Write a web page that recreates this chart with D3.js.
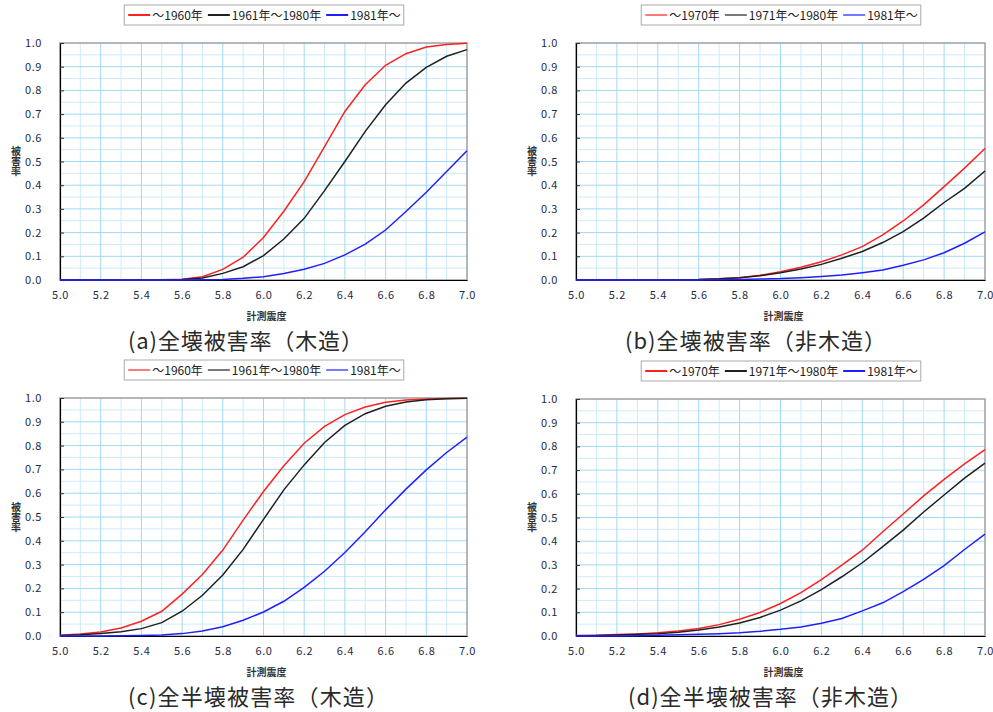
<!DOCTYPE html>
<html>
<head>
<meta charset="utf-8">
<script src="https://cdn.jsdelivr.net/npm/d3@7"></script>
<style>
  body { margin: 0; background: #fff; }
  svg { display: block; }
</style>
</head>
<body>
<svg id="chart" width="993" height="712"></svg>
<script>
// 計測震度 (x values every 0.1)
const intensity = [5.0, 5.1, 5.2, 5.3, 5.4, 5.5, 5.6, 5.7, 5.8, 5.9, 6.0, 6.1, 6.2, 6.3, 6.4, 6.5, 6.6, 6.7, 6.8, 6.9, 7.0];
const xTicks = [5.0, 5.2, 5.4, 5.6, 5.8, 6.0, 6.2, 6.4, 6.6, 6.8, 7.0];
const yTicks = [0, 0.1, 0.2, 0.3, 0.4, 0.5, 0.6, 0.7, 0.8, 0.9, 1.0];

const woodLabels = ["～1960年", "1961年～1980年", "1981年～"];
const nonWoodLabels = ["～1970年", "1971年～1980年", "1981年～"];
const seriesColors = ["#ff2020", "#202020", "#2020ff"];

// (a) 全壊 木造
const aPre  = [0, 0, 0, 0, 0, 0.001, 0.003, 0.014, 0.045, 0.096, 0.179, 0.29, 0.415, 0.563, 0.711, 0.824, 0.906, 0.955, 0.983, 0.994, 0.999];
const aMid  = [0, 0, 0, 0, 0, 0.0005, 0.002, 0.008, 0.028, 0.056, 0.103, 0.173, 0.26, 0.377, 0.5, 0.627, 0.739, 0.831, 0.897, 0.944, 0.972];
const aPost = [0, 0, 0, 0, 0, 0, 0, 0.001, 0.002, 0.007, 0.014, 0.027, 0.045, 0.07, 0.106, 0.151, 0.211, 0.289, 0.37, 0.458, 0.545];
// (b) 全壊 非木造
const bPre  = [0, 0, 0, 0, 0, 0.001, 0.002, 0.005, 0.01, 0.02, 0.035, 0.054, 0.077, 0.106, 0.141, 0.19, 0.249, 0.317, 0.394, 0.472, 0.555];
const bMid  = [0, 0, 0, 0, 0, 0.001, 0.002, 0.005, 0.01, 0.018, 0.031, 0.046, 0.066, 0.092, 0.12, 0.158, 0.204, 0.261, 0.327, 0.387, 0.46];
const bPost = [0, 0, 0, 0, 0, 0, 0, 0.001, 0.002, 0.004, 0.006, 0.01, 0.015, 0.021, 0.031, 0.042, 0.062, 0.085, 0.115, 0.155, 0.203];
// (c) 全半壊 木造
const cPre  = [0.003, 0.008, 0.017, 0.034, 0.062, 0.104, 0.176, 0.258, 0.361, 0.487, 0.607, 0.715, 0.81, 0.881, 0.93, 0.962, 0.982, 0.992, 0.996, 0.998, 0.999];
const cMid  = [0.002, 0.005, 0.01, 0.018, 0.031, 0.056, 0.104, 0.171, 0.256, 0.364, 0.49, 0.614, 0.719, 0.813, 0.885, 0.934, 0.965, 0.983, 0.993, 0.997, 0.999];
const cPost = [0, 0, 0, 0.001, 0.002, 0.004, 0.01, 0.021, 0.039, 0.066, 0.101, 0.146, 0.204, 0.272, 0.351, 0.438, 0.53, 0.617, 0.698, 0.771, 0.836];
// (d) 全半壊 非木造
const dPre  = [0.002, 0.003, 0.006, 0.008, 0.014, 0.021, 0.032, 0.048, 0.071, 0.099, 0.137, 0.183, 0.238, 0.299, 0.362, 0.44, 0.515, 0.591, 0.661, 0.726, 0.786];
const dMid  = [0.001, 0.002, 0.004, 0.007, 0.01, 0.016, 0.025, 0.038, 0.055, 0.078, 0.109, 0.148, 0.196, 0.25, 0.309, 0.377, 0.447, 0.523, 0.595, 0.666, 0.729];
const dPost = [0, 0, 0, 0.001, 0.003, 0.005, 0.007, 0.01, 0.014, 0.02, 0.028, 0.038, 0.054, 0.074, 0.106, 0.14, 0.187, 0.239, 0.297, 0.365, 0.43];

const captions = ["(a)全壊被害率（木造）", "(b)全壊被害率（非木造）", "(c)全半壊被害率（木造）", "(d)全半壊被害率（非木造）"];

// panel layout
const panels = [
  { left: 60,  top: 43,  w: 407, h: 237, series: [aPre, aMid, aPost], labels: woodLabels,    legendX: 264, legendW: 2,   capX: 128, capW: 235, caption: captions[0] },
  { left: 576, top: 43,  w: 409, h: 237, series: [bPre, bMid, bPost], labels: nonWoodLabels, legendX: 781, legendW: 1.2, capX: 625, capW: 261, caption: captions[1] },
  { left: 60,  top: 398, w: 407, h: 238, series: [cPre, cMid, cPost], labels: woodLabels,    legendX: 264, legendW: 1.2, capX: 128, capW: 260, caption: captions[2] },
  { left: 576, top: 399, w: 409, h: 237, series: [dPre, dMid, dPost], labels: nonWoodLabels, legendX: 781, legendW: 2,   capX: 628, capW: 284, caption: captions[3] }
];

const svg = d3.select("#chart");
const tickFont = "'Noto Sans CJK JP', 'DejaVu Sans', sans-serif";

panels.forEach(p => {
  const g = svg.append("g").attr("transform", `translate(${p.left},${p.top})`);
  const x = d3.scaleLinear().domain([5, 7]).range([0, p.w]);
  const y = d3.scaleLinear().domain([0, 1]).range([p.h, 0]);

  // minor grid (0.1 vertical, 0.05 horizontal)
  const vMinor = d3.range(5.1, 7.0, 0.2);
  const hMinor = d3.range(0.05, 1.0, 0.1);
  g.append("g").selectAll("line").data(vMinor).join("line")
    .attr("x1", d => x(d)).attr("x2", d => x(d)).attr("y1", 0).attr("y2", p.h)
    .attr("stroke", "#cdebfa").attr("stroke-width", 1);
  g.append("g").selectAll("line").data(hMinor).join("line")
    .attr("x1", 0).attr("x2", p.w).attr("y1", d => y(d)).attr("y2", d => y(d))
    .attr("stroke", "#cdebfa").attr("stroke-width", 1);
  // major grid
  g.append("g").selectAll("line").data(xTicks.slice(1, -1)).join("line")
    .attr("x1", d => x(d)).attr("x2", d => x(d)).attr("y1", 0).attr("y2", p.h)
    .attr("stroke", "#9fd9f3").attr("stroke-width", 1);
  g.append("g").selectAll("line").data(yTicks.slice(1, -1)).join("line")
    .attr("x1", 0).attr("x2", p.w).attr("y1", d => y(d)).attr("y2", d => y(d))
    .attr("stroke", "#9fd9f3").attr("stroke-width", 1);

  // frame: top/right gray
  g.append("rect").attr("x", 0).attr("y", 0).attr("width", p.w).attr("height", p.h)
    .attr("fill", "none").attr("stroke", "#9aa0a6").attr("stroke-width", 1.5);

  // axes
  const yAxis = g.append("g")
    .call(d3.axisLeft(y).tickValues(yTicks).tickSize(-4).tickPadding(18).tickFormat(d3.format(".1f")));
  const xAxis = g.append("g").attr("transform", `translate(0,${p.h})`)
    .call(d3.axisBottom(x).tickValues(xTicks).tickSize(0).tickPadding(11).tickFormat(d3.format(".1f")));
  [xAxis, yAxis].forEach(a => {
    a.select(".domain").attr("stroke", "#000").attr("stroke-width", 1.2);
    a.selectAll(".tick line").attr("stroke", "#333");
    a.selectAll(".tick text")
      .attr("fill", "#1f2a44").style("font-family", tickFont).style("font-size", "11px")
      .style("letter-spacing", "0.6px");
  });

  // curves
  const line = d3.line().x((d, i) => x(intensity[i])).y(d => y(d));
  p.series.forEach((s, i) => {
    g.append("path").datum(s)
      .attr("d", line)
      .attr("fill", "none")
      .attr("stroke", seriesColors[i])
      .attr("stroke-width", 1.5);
  });

  // y-axis title (vertical)
  g.append("text")
    .attr("x", -44).attr("y", p.h / 2)
    .attr("text-anchor", "middle")
    .style("writing-mode", "vertical-rl")
    .style("font-family", tickFont).style("font-size", "10px").style("font-weight", "bold")
    .attr("fill", "#333")
    .text("被害率");

  // x-axis title
  g.append("text")
    .attr("x", p.w / 2 + 3).attr("y", p.h + 40)
    .attr("text-anchor", "middle")
    .style("font-family", tickFont).style("font-size", "10px").style("font-weight", "bold")
    .attr("fill", "#333")
    .text("計測震度");

  // caption
  svg.append("text")
    .attr("x", p.capX).attr("y", p.top + p.h + 69)
    .attr("textLength", p.capW).attr("lengthAdjust", "spacing")
    .style("font-family", "'Noto Sans CJK JP', sans-serif").style("font-size", "22px").style("font-weight", 400)
    .attr("fill", "#2a2a2a")
    .text(p.caption);

  // legend
  const lg = svg.append("g");
  const box = lg.append("rect");
  let cx = 4;
  p.labels.forEach((lab, i) => {
    const it = lg.append("g").attr("transform", `translate(${cx},0)`);
    it.append("line").attr("x1", 0).attr("x2", 22).attr("y1", 10).attr("y2", 10)
      .attr("stroke", seriesColors[i]).attr("stroke-width", p.legendW);
    const t = it.append("text").attr("x", 24).attr("y", 14.5)
      .style("font-family", tickFont).style("font-size", "12px")
      .attr("fill", "#222").text(lab);
    cx += 24 + t.node().getComputedTextLength() + 5;
  });
  const boxW = cx - 2;
  box.attr("x", 0).attr("y", 0).attr("width", boxW).attr("height", 20)
    .attr("fill", "#fff").attr("stroke", "#aaa").attr("stroke-width", 1);
  lg.attr("transform", `translate(${p.legendX - boxW / 2},${p.top - 38})`);
});
</script>
</body>
</html>
